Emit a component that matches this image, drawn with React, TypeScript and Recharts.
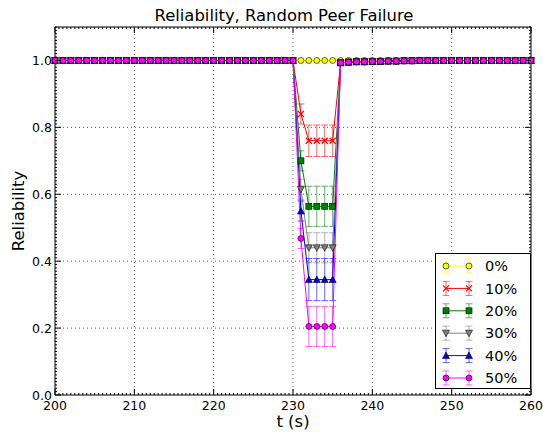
import { LineChart, Line, XAxis, YAxis, ErrorBar, ReferenceLine, Legend } from 'recharts';

const W = 543;
const H = 432;
const PLOT_TOP = 27;
const PLOT_RIGHT = 531;
const FONT = '"DejaVu Sans", sans-serif';

// time (s), one sample per second
const TIMES = Array.from({ length: 61 }, (_, i) => 200 + i);

const X_MAJOR = [200, 210, 220, 230, 240, 250, 260];
const X_GRID = [210, 220, 230, 240, 250];
const Y_GRID = [0.2, 0.4, 0.6, 0.8, 1.0];
const X_TICKS = Array.from({ length: 121 }, (_, i) => 200 + i / 2);
const Y_TICKS = Array.from({ length: 111 }, (_, i) => i / 100);

// reliability per failure rate
const R0 = [
  1, 1, 1, 1, 1, 1, 1, 1, 1, 1,
  1, 1, 1, 1, 1, 1, 1, 1, 1, 1,
  1, 1, 1, 1, 1, 1, 1, 1, 1, 1,
  1, 1, 1, 1, 1, 1, 1, 1, 1, 1,
  1, 1, 1, 1, 1, 1, 1, 1, 1, 1,
  1, 1, 1, 1, 1, 1, 1, 1, 1, 1,
  1,
];
const R10 = [
  1, 1, 1, 1, 1, 1, 1, 1, 1, 1,
  1, 1, 1, 1, 1, 1, 1, 1, 1, 1,
  1, 1, 1, 1, 1, 1, 1, 1, 1, 1,
  1, 0.84, 0.76, 0.76, 0.76, 0.76, 0.993, 0.995, 0.996, 0.996,
  0.997, 0.997, 0.998, 0.998, 0.999, 0.999, 1, 1, 1, 1,
  1, 1, 1, 1, 1, 1, 1, 1, 1, 1,
  1,
];
const R20 = [
  1, 1, 1, 1, 1, 1, 1, 1, 1, 1,
  1, 1, 1, 1, 1, 1, 1, 1, 1, 1,
  1, 1, 1, 1, 1, 1, 1, 1, 1, 1,
  1, 0.7, 0.564, 0.564, 0.564, 0.564, 0.993, 0.995, 0.996, 0.996,
  0.997, 0.997, 0.998, 0.998, 0.999, 0.999, 1, 1, 1, 1,
  1, 1, 1, 1, 1, 1, 1, 1, 1, 1,
  1,
];
const R30 = [
  1, 1, 1, 1, 1, 1, 1, 1, 1, 1,
  1, 1, 1, 1, 1, 1, 1, 1, 1, 1,
  1, 1, 1, 1, 1, 1, 1, 1, 1, 1,
  1, 0.615, 0.44, 0.44, 0.44, 0.44, 0.993, 0.995, 0.996, 0.996,
  0.997, 0.997, 0.998, 0.998, 0.999, 0.999, 1, 1, 1, 1,
  1, 1, 1, 1, 1, 1, 1, 1, 1, 1,
  1,
];
const R40 = [
  1, 1, 1, 1, 1, 1, 1, 1, 1, 1,
  1, 1, 1, 1, 1, 1, 1, 1, 1, 1,
  1, 1, 1, 1, 1, 1, 1, 1, 1, 1,
  1, 0.55, 0.345, 0.345, 0.345, 0.345, 0.993, 0.995, 0.996, 0.996,
  0.997, 0.997, 0.998, 0.998, 0.999, 0.999, 1, 1, 1, 1,
  1, 1, 1, 1, 1, 1, 1, 1, 1, 1,
  1,
];
const R50 = [
  1, 1, 1, 1, 1, 1, 1, 1, 1, 1,
  1, 1, 1, 1, 1, 1, 1, 1, 1, 1,
  1, 1, 1, 1, 1, 1, 1, 1, 1, 1,
  1, 0.468, 0.205, 0.205, 0.205, 0.205, 0.993, 0.995, 0.996, 0.996,
  0.997, 0.997, 0.998, 0.998, 0.999, 0.999, 1, 1, 1, 1,
  1, 1, 1, 1, 1, 1, 1, 1, 1, 1,
  1,
];

// error bar half-widths
const E10 = [
  0, 0, 0, 0, 0, 0, 0, 0, 0, 0,
  0, 0, 0, 0, 0, 0, 0, 0, 0, 0,
  0, 0, 0, 0, 0, 0, 0, 0, 0, 0,
  0, 0.03, 0.047, 0.047, 0.047, 0.047, 0, 0, 0, 0,
  0, 0, 0, 0, 0, 0, 0, 0, 0, 0,
  0, 0, 0, 0, 0, 0, 0, 0, 0, 0,
  0,
];
const E20 = [
  0, 0, 0, 0, 0, 0, 0, 0, 0, 0,
  0, 0, 0, 0, 0, 0, 0, 0, 0, 0,
  0, 0, 0, 0, 0, 0, 0, 0, 0, 0,
  0, 0.03, 0.06, 0.06, 0.06, 0.06, 0, 0, 0, 0,
  0, 0, 0, 0, 0, 0, 0, 0, 0, 0,
  0, 0, 0, 0, 0, 0, 0, 0, 0, 0,
  0,
];
const E30 = [
  0, 0, 0, 0, 0, 0, 0, 0, 0, 0,
  0, 0, 0, 0, 0, 0, 0, 0, 0, 0,
  0, 0, 0, 0, 0, 0, 0, 0, 0, 0,
  0, 0.03, 0.045, 0.045, 0.045, 0.045, 0, 0, 0, 0,
  0, 0, 0, 0, 0, 0, 0, 0, 0, 0,
  0, 0, 0, 0, 0, 0, 0, 0, 0, 0,
  0,
];
const E40 = [
  0, 0, 0, 0, 0, 0, 0, 0, 0, 0,
  0, 0, 0, 0, 0, 0, 0, 0, 0, 0,
  0, 0, 0, 0, 0, 0, 0, 0, 0, 0,
  0, 0.03, 0.063, 0.063, 0.063, 0.063, 0, 0, 0, 0,
  0, 0, 0, 0, 0, 0, 0, 0, 0, 0,
  0, 0, 0, 0, 0, 0, 0, 0, 0, 0,
  0,
];
const E50 = [
  0, 0, 0, 0, 0, 0, 0, 0, 0, 0,
  0, 0, 0, 0, 0, 0, 0, 0, 0, 0,
  0, 0, 0, 0, 0, 0, 0, 0, 0, 0,
  0, 0.03, 0.06, 0.06, 0.06, 0.06, 0, 0, 0, 0,
  0, 0, 0, 0, 0, 0, 0, 0, 0, 0,
  0, 0, 0, 0, 0, 0, 0, 0, 0, 0,
  0,
];

const SERIES = [
  { key: 'r0', err: null, name: '0%', color: '#ffff00', fill: '#ffff00', marker: 'circle' },
  { key: 'r10', err: 'e10', name: '10%', color: '#ff0000', fill: '#ff0000', marker: 'x' },
  { key: 'r20', err: 'e20', name: '20%', color: '#008000', fill: '#008000', marker: 'square' },
  { key: 'r30', err: 'e30', name: '30%', color: '#808080', fill: '#808080', marker: 'tri-down' },
  { key: 'r40', err: 'e40', name: '40%', color: '#0000ff', fill: '#0000ff', marker: 'tri-up' },
  { key: 'r50', err: 'e50', name: '50%', color: '#ff00ff', fill: '#ff00ff', marker: 'circle' },
];

const data = TIMES.map((t, i) => ({
  t,
  r0: R0[i],
  r10: R10[i], e10: E10[i],
  r20: R20[i], e20: E20[i],
  r30: R30[i], e30: E30[i],
  r40: R40[i], e40: E40[i],
  r50: R50[i], e50: E50[i],
}));

function Marker({ kind, cx, cy, fill }: any) {
  if (cx == null || cy == null) return null;
  switch (kind) {
    case 'x':
      return (
        <path
          d={`M${cx - 3},${cy - 3}L${cx + 3},${cy + 3}M${cx - 3},${cy + 3}L${cx + 3},${cy - 3}`}
          stroke={fill}
          strokeWidth={1.2}
        />
      );
    case 'square':
      return <rect x={cx - 3} y={cy - 3} width={6} height={6} fill={fill} stroke="#000" strokeWidth={0.6} />;
    case 'tri-down':
      return <path d={`M${cx - 3.5},${cy - 3}L${cx + 3.5},${cy - 3}L${cx},${cy + 3.5}Z`} fill={fill} stroke="#000" strokeWidth={0.6} />;
    case 'tri-up':
      return <path d={`M${cx - 3.5},${cy + 3}L${cx + 3.5},${cy + 3}L${cx},${cy - 3.5}Z`} fill={fill} stroke="#000" strokeWidth={0.6} />;
    default:
      return <circle cx={cx} cy={cy} r={3} fill={fill} stroke="#000" strokeWidth={0.6} />;
  }
}

const XTick = ({ x, y, payload }: any) => {
  const v = payload.value;
  const major = X_MAJOR.includes(v);
  const len = major ? 6 : 2;
  return (
    <g>
      <line x1={x} y1={y} x2={x} y2={y - len} stroke="#000" strokeWidth={1} />
      <line x1={x} y1={PLOT_TOP} x2={x} y2={PLOT_TOP + len} stroke="#000" strokeWidth={1} />
      {major && (
        <text x={x} y={y + 6} dy="0.71em" textAnchor="middle" fontSize={12.5} fontFamily={FONT} fill="#000">
          {v}
        </text>
      )}
    </g>
  );
};

const YTick = ({ x, y, payload }: any) => {
  const v = payload.value;
  const major = Math.abs(v * 5 - Math.round(v * 5)) < 1e-6;
  const len = major ? 6 : 2;
  return (
    <g>
      <line x1={x} y1={y} x2={x + len} y2={y} stroke="#000" strokeWidth={1} />
      <line x1={PLOT_RIGHT - len} y1={y} x2={PLOT_RIGHT} y2={y} stroke="#000" strokeWidth={1} />
      {major && (
        <text x={x - 3} y={y} dy="0.36em" textAnchor="end" fontSize={12.5} fontFamily={FONT} fill="#000">
          {v.toFixed(1)}
        </text>
      )}
    </g>
  );
};

const YLabel = ({ viewBox }: any) => {
  const cy = viewBox.y + viewBox.height / 2;
  return (
    <text
      x={18}
      y={cy}
      transform={`rotate(-90 18 ${cy})`}
      textAnchor="middle"
      dominantBaseline="central"
      fontSize={16.5}
      fontFamily={FONT}
      fill="#000"
    >
      Reliability
    </text>
  );
};

const LegendBox = () => (
  <svg width={96} height={136} style={{ display: 'block' }}>
    <rect x={0.5} y={0.5} width={95} height={135} fill="#fff" stroke="#000" strokeWidth={1} />
    {SERIES.map((s, i) => {
      const cy = 13 + i * 22.4;
      return (
        <g key={s.key}>
          <line x1={11} y1={cy} x2={34} y2={cy} stroke={s.color} strokeWidth={1} />
          {[11, 34].map((cx) => (
            <g key={cx} stroke={s.color} strokeOpacity={0.6} strokeWidth={1}>
              <line x1={cx} y1={cy - 7} x2={cx} y2={cy + 7} />
              <line x1={cx - 3.5} y1={cy - 7} x2={cx + 3.5} y2={cy - 7} />
              <line x1={cx - 3.5} y1={cy + 7} x2={cx + 3.5} y2={cy + 7} />
            </g>
          ))}
          <Marker kind={s.marker} cx={11} cy={cy} fill={s.fill} />
          <Marker kind={s.marker} cx={34} cy={cy} fill={s.fill} />
          <text x={50} y={cy} dy="0.36em" fontSize={14.5} fontFamily={FONT} fill="#000">
            {s.name}
          </text>
        </g>
      );
    })}
  </svg>
);

export default function App() {
  return (
    <div style={{ position: 'absolute', left: 0, top: 0, width: W, height: H, background: '#fff' }}>
      <svg width={W} height={PLOT_TOP} style={{ position: 'absolute', left: 0, top: 0 }}>
        <text x={284} y={21} textAnchor="middle" fontSize={16.4} fontFamily={FONT} fill="#000">
          Reliability, Random Peer Failure
        </text>
      </svg>
      <LineChart width={W} height={H} data={data} margin={{ top: PLOT_TOP, right: W - PLOT_RIGHT, bottom: 0, left: 0 }}>
        {X_GRID.map((v) => (
          <ReferenceLine key={`gx${v}`} x={v} stroke="#333" strokeDasharray="1 3" strokeWidth={0.8} />
        ))}
        {Y_GRID.map((v) => (
          <ReferenceLine key={`gy${v}`} y={v} stroke="#333" strokeDasharray="1 3" strokeWidth={0.8} />
        ))}
        <ReferenceLine y={1.1} stroke="#000" strokeWidth={1} />
        <ReferenceLine x={260} stroke="#000" strokeWidth={1} />
        <XAxis
          dataKey="t"
          type="number"
          domain={[200, 260]}
          ticks={X_TICKS}
          interval={0}
          height={37}
          tickSize={0}
          tickMargin={0}
          tickLine={false}
          axisLine={{ stroke: '#000' }}
          tick={<XTick />}
          label={{ value: 't (s)', position: 'insideBottom', offset: 5, fontSize: 16.5, fontFamily: FONT, fill: '#000' }}
        />
        <YAxis
          type="number"
          domain={[0, 1.1]}
          ticks={Y_TICKS}
          interval={0}
          width={55}
          tickSize={0}
          tickMargin={0}
          tickLine={false}
          axisLine={{ stroke: '#000' }}
          tick={<YTick />}
          label={<YLabel />}
        />
        {SERIES.map((s) => (
          <Line
            key={s.key}
            dataKey={s.key}
            name={s.name}
            type="linear"
            stroke={s.color}
            strokeWidth={1}
            isAnimationActive={false}
            activeDot={false}
            dot={(p: any) => <Marker key={`${s.key}-${p.index}`} kind={s.marker} cx={p.cx} cy={p.cy} fill={s.fill} />}
          >
            {s.err && (
              <ErrorBar
                dataKey={s.err}
                direction="y"
                width={3.5}
                stroke={s.color}
                strokeOpacity={0.6}
                strokeWidth={1}
                isAnimationActive={false}
              />
            )}
          </Line>
        ))}
        <Legend
          layout="vertical"
          align="center"
          verticalAlign="middle"
          wrapperStyle={{ left: 435, top: 253, width: 96, height: 136 }}
          content={() => <LegendBox />}
        />
      </LineChart>
    </div>
  );
}
